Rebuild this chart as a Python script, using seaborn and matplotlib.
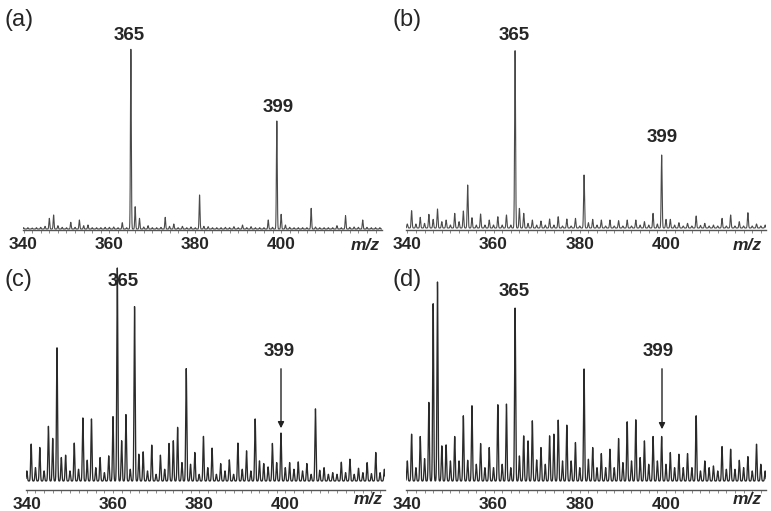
import numpy as np
import pandas as pd
import matplotlib
matplotlib.use("Agg")
import matplotlib.pyplot as plt
from matplotlib.ticker import MultipleLocator
import seaborn as sns

# m/z of the peaks (one per nominal mass) and intensities
mz = list(range(340, 424))

int_a = [4, 4, 3, 4, 5, 8, 32, 42, 10, 5, 4, 20, 5, 27, 10, 12, 4, 4, 4, 5,
         5, 6, 4, 19, 4, 539, 67, 32, 6, 10, 4, 4, 5, 35, 8, 15, 4, 8, 4, 6,
         4, 102, 8, 7, 4, 4, 4, 5, 4, 7, 4, 12, 4, 7, 4, 4, 4, 27, 5, 324,
         44, 12, 5, 4, 4, 4, 4, 62, 6, 4, 4, 4, 4, 10, 4, 40, 5, 6, 5, 27,
         5, 4, 4, 4]
int_b = [12, 52, 12, 32, 14, 41, 26, 57, 19, 24, 9, 44, 19, 51, 129, 31, 9, 42, 9, 24,
         9, 34, 9, 39, 9, 532, 59, 44, 14, 24, 9, 21, 9, 27, 9, 34, 6, 27, 6, 29,
         6, 159, 16, 26, 9, 24, 6, 24, 6, 22, 6, 24, 6, 24, 9, 19, 9, 44, 12, 219,
         26, 26, 9, 16, 6, 14, 6, 36, 8, 14, 6, 9, 6, 29, 6, 39, 6, 19, 6, 46,
         6, 12, 6, 9]
int_c = [30, 110, 40, 100, 30, 163, 127, 397, 70, 77, 30, 113, 35, 188, 62, 185, 40, 70, 25, 75,
         192, 635, 120, 198, 35, 520, 80, 87, 30, 107, 20, 77, 35, 112, 120, 160, 55, 335, 50, 85,
         20, 133, 40, 98, 20, 52, 30, 63, 20, 113, 35, 90, 30, 185, 60, 52, 42, 112, 55, 143,
         40, 55, 35, 57, 30, 52, 20, 215, 32, 40, 20, 25, 20, 56, 25, 65, 20, 38, 25, 55,
         22, 85, 25, 35]
int_d = [60, 140, 40, 133, 67, 235, 530, 595, 105, 108, 60, 133, 60, 195, 62, 225, 50, 112, 40, 100,
         40, 228, 50, 230, 40, 517, 75, 135, 120, 180, 63, 100, 50, 135, 140, 182, 60, 167, 60, 115,
         40, 335, 65, 100, 40, 82, 40, 95, 40, 127, 55, 177, 60, 183, 70, 120, 50, 133, 60, 133,
         50, 85, 40, 80, 40, 82, 40, 195, 30, 60, 40, 45, 30, 103, 35, 95, 35, 62, 40, 73,
         30, 110, 50, 30]

panel_labels = ["(a)", "(b)", "(c)", "(d)"]
tick_vals = [340, 360, 380, 400]

W, H = 771, 511
sns.set_style("white")
plt.rcParams["font.family"] = ["Liberation Sans", "DejaVu Sans"]

fig = plt.figure(figsize=(W / 100, H / 100), dpi=100)


def profile(peaks, sigma):
    # turn the stick list into a profile trace so it looks like the instrument output
    x = np.arange(339.0, 424.5, 0.01)
    y = np.zeros_like(x)
    for m, h in zip(mz, peaks):
        y += h * np.exp(-0.5 * ((x - m) / sigma) ** 2)
    y = y / max(peaks) * 100
    return pd.DataFrame({"mz": x, "intensity": y})


# pixel layout of each panel: x0, x1, xlim, axis line, baseline, tallest peak top, box top
panels = [
    (int_a, 22.7, 382, (339.8, 423.5), 230, 229, 49.3, 20, 0.10, "#4a4a4a", 0.8),
    (int_b, 406, 766, (339.7, 423.2), 230, 228, 50.7, 20, 0.11, "#4a4a4a", 0.8),
    (int_c, 26, 385, (339.8, 423.15), 490, 481, 268, 262, 0.12, "#2a2a2a", 0.95),
    (int_d, 406, 766, (339.7, 423.2), 490, 481, 282, 262, 0.12, "#2a2a2a", 0.95),
]

axes = []
for peaks, x0, x1, xl, ax_px, base_px, peak_px, top_px, sig, col, lw in panels:
    ax = fig.add_axes([x0 / W, 1 - ax_px / H, (x1 - x0) / W, (ax_px - top_px) / H])
    df = profile(peaks, sig)
    sns.lineplot(data=df, x="mz", y="intensity", ax=ax, color=col,
                 linewidth=lw, estimator=None, sort=False)
    scale = (base_px - peak_px) / 100
    ax.set_xlim(*xl)
    ax.set_ylim(-(ax_px - base_px) / scale, 100 + (peak_px - top_px) / scale)
    for s in ["top", "left", "right"]:
        ax.spines[s].set_visible(False)
    ax.spines["bottom"].set_color("#555555")
    ax.spines["bottom"].set_linewidth(1.0)
    ax.set_yticks([])
    ax.xaxis.set_minor_locator(MultipleLocator(2))
    ax.set_xticks(tick_vals)
    ax.set_xticklabels([str(v) for v in tick_vals], fontsize=12.5, fontweight="bold")
    ax.tick_params(axis="x", which="both", bottom=True, length=2.5, width=0.6,
                   color="#777777", pad=2.5)
    ax.set_xlabel("")
    ax.set_ylabel("")
    ax.patch.set_alpha(0)
    axes.append(ax)


def fig_text(px, py, s, **kw):
    fig.text(px / W, 1 - py / H, s, **kw)


# panel letters
for (px, py), s in zip([(4, 20), (392, 20), (4, 280), (392, 280)], panel_labels):
    fig_text(px, py, s, fontsize=17, va="center", ha="left")

# m/z axis titles
for px, py in [(365, 246), (747, 246), (368, 499), (747, 499)]:
    fig_text(px, py, "m/z", fontsize=12.5, fontweight="bold", style="italic",
             ha="center", va="center")

lab = dict(fontsize=13.5, fontweight="bold", ha="center", va="center")
fig_text(129, 35, "365", **lab)
fig_text(278, 107, "399", **lab)
fig_text(514, 35, "365", **lab)
fig_text(662, 137, "399", **lab)
fig_text(123, 281, "365", **lab)
fig_text(279, 352, "399", **lab)
fig_text(514, 292, "365", **lab)
fig_text(658, 352, "399", **lab)

# arrows pointing at 399 in the noisy spectra
for px, y0, y1 in [(281, 366, 431), (662, 366, 432)]:
    fig.patches.append(matplotlib.patches.FancyArrowPatch(
        (px / W, 1 - y0 / H), (px / W, 1 - y1 / H), transform=fig.transFigure,
        arrowstyle="-|>", mutation_scale=9, color="#222222", linewidth=1.0))

fig.savefig("out.png", dpi=100)
